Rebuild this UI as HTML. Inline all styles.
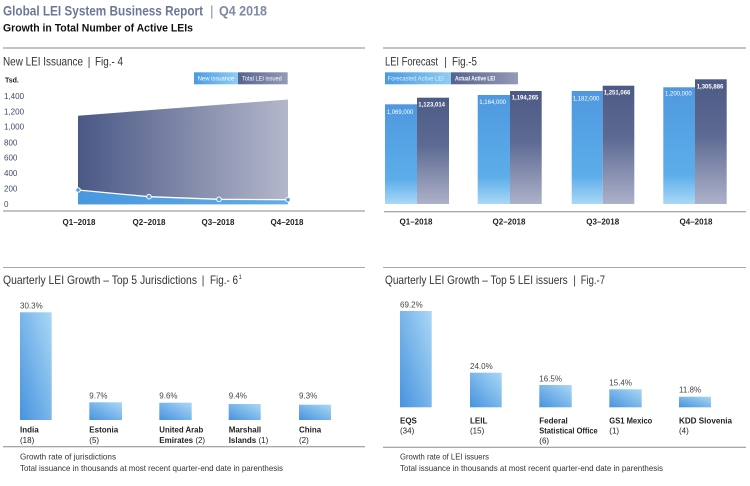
<!DOCTYPE html>
<html><head><meta charset="utf-8"><style>
html,body{margin:0;padding:0;background:#fff;}
svg{display:block;font-family:"Liberation Sans",sans-serif;}
</style></head><body>
<svg width="750" height="486" viewBox="0 0 750 486" xmlns="http://www.w3.org/2000/svg">
<defs>
<linearGradient id="darkArea" x1="0" y1="0" x2="1" y2="0"><stop offset="0" stop-color="#4a5885"/><stop offset="1" stop-color="#b4b7cb"/></linearGradient>
<linearGradient id="lightArea" x1="0" y1="0" x2="1" y2="0"><stop offset="0" stop-color="#4897e0"/><stop offset="1" stop-color="#5eaee9"/></linearGradient>
<linearGradient id="lgLight" x1="0" y1="0" x2="1" y2="0"><stop offset="0" stop-color="#4a9be2"/><stop offset="1" stop-color="#8fcdf3"/></linearGradient>
<linearGradient id="lgDark" x1="0" y1="0" x2="1" y2="0"><stop offset="0" stop-color="#56638d"/><stop offset="1" stop-color="#949bb6"/></linearGradient>
<linearGradient id="barLight" x1="0" y1="0" x2="0" y2="1"><stop offset="0" stop-color="#4f98df"/><stop offset="0.75" stop-color="#5cadea"/><stop offset="1" stop-color="#a9d8f6"/></linearGradient>
<linearGradient id="barDark" x1="0" y1="0" x2="0" y2="1"><stop offset="0" stop-color="#4d5a85"/><stop offset="0.45" stop-color="#5d6a93"/><stop offset="1" stop-color="#adb1c9"/></linearGradient>
<linearGradient id="bBar" x1="0" y1="1" x2="1" y2="0"><stop offset="0" stop-color="#4793de"/><stop offset="1" stop-color="#aad8f6"/></linearGradient>
</defs>

<!-- Header -->
<text x="3" y="15.7" font-size="14" font-weight="bold" fill="#6b7897" textLength="200" lengthAdjust="spacingAndGlyphs">Global LEI System Business Report</text>
<text x="210" y="15.7" font-size="14" fill="#8a93ac">|</text>
<text x="219" y="15.7" font-size="14" font-weight="bold" fill="#7f89a3" textLength="48" lengthAdjust="spacingAndGlyphs">Q4 2018</text>
<text x="3" y="31.5" font-size="11" font-weight="bold" fill="#111" textLength="190" lengthAdjust="spacingAndGlyphs">Growth in Total Number of Active LEIs</text>

<!-- separators -->
<line x1="3" y1="48" x2="365" y2="48" stroke="#8a8a8a" stroke-width="1"/>
<line x1="383" y1="48" x2="746" y2="48" stroke="#8a8a8a" stroke-width="1"/>
<line x1="3" y1="267.5" x2="365" y2="267.5" stroke="#aaa" stroke-width="1"/>
<line x1="383" y1="267.5" x2="746" y2="267.5" stroke="#aaa" stroke-width="1"/>

<!-- Fig 4 -->
<text x="3" y="65.5" font-size="12" fill="#333" textLength="80" lengthAdjust="spacingAndGlyphs">New LEI Issuance</text>
<text x="87.5" y="65.5" font-size="12" fill="#555">|</text>
<text x="95" y="65.5" font-size="12" fill="#333" textLength="28" lengthAdjust="spacingAndGlyphs">Fig.- 4</text>

<rect x="194" y="72.3" width="44" height="12" fill="url(#lgLight)"/>
<rect x="238" y="72.3" width="49.7" height="12" fill="url(#lgDark)"/>
<text x="197.7" y="80.7" font-size="6" fill="#fff" textLength="36.6" lengthAdjust="spacingAndGlyphs">New issuance</text>
<text x="242" y="80.7" font-size="6" fill="#fff" textLength="39.7" lengthAdjust="spacingAndGlyphs">Total LEI issued</text>

<text x="5" y="82.5" font-size="7" font-weight="bold" fill="#222">Tsd.</text>
<g font-size="8" fill="#3d4a72">
<text x="4" y="99">1,400</text>
<text x="4" y="114.7">1,200</text>
<text x="4" y="129.7">1,000</text>
<text x="4" y="145.3">800</text>
<text x="4" y="160.7">600</text>
<text x="4" y="176">400</text>
<text x="4" y="191.3">200</text>
<text x="4" y="207">0</text>
</g>

<polygon points="78,115.7 288,99.5 288,204.3 78,204.3" fill="url(#darkArea)"/>
<polygon points="78,190 149,196.7 219,199.3 288,199.7 288,204.3 78,204.3" fill="url(#lightArea)"/>
<polyline points="78,190 149,196.7 219,199.3 288,199.7" fill="none" stroke="#fff" stroke-width="1.3"/>
<g fill="#4f9de2" stroke="#fff" stroke-width="1">
<circle cx="78" cy="190" r="2.3"/>
<circle cx="149" cy="196.7" r="2.3"/>
<circle cx="219" cy="199.3" r="2.3"/>
<circle cx="288" cy="199.7" r="2.3"/>
</g>

<line x1="3" y1="211" x2="365" y2="211" stroke="#8a8a8a" stroke-width="1"/>
<g font-size="8" font-weight="bold" fill="#222" text-anchor="middle">
<text x="79" y="225">Q1–2018</text>
<text x="149" y="225">Q2–2018</text>
<text x="218" y="225">Q3–2018</text>
<text x="287" y="225">Q4–2018</text>
</g>

<!-- Fig 5 -->
<text x="385" y="65.7" font-size="12" fill="#333" textLength="53" lengthAdjust="spacingAndGlyphs">LEI Forecast</text>
<text x="444" y="65.7" font-size="12" fill="#555">|</text>
<text x="452" y="65.7" font-size="12" fill="#333" textLength="25" lengthAdjust="spacingAndGlyphs">Fig.-5</text>

<rect x="385" y="72.3" width="66" height="12" fill="url(#lgLight)"/>
<rect x="451" y="72.3" width="67" height="12" fill="url(#lgDark)"/>
<text x="387.7" y="80.5" font-size="6" fill="#dff0ff" textLength="56" lengthAdjust="spacingAndGlyphs">Forecasted Active LEI</text>
<text x="455" y="80.5" font-size="6" font-weight="bold" fill="#fff" textLength="40" lengthAdjust="spacingAndGlyphs">Actual Active LEI</text>

<rect x="385" y="104.3" width="32" height="99.7" fill="url(#barLight)"/>
<rect x="417" y="97.7" width="32" height="106.3" fill="url(#barDark)"/>
<rect x="477.7" y="95" width="32.3" height="109" fill="url(#barLight)"/>
<rect x="510" y="91" width="31.7" height="113" fill="url(#barDark)"/>
<rect x="571.7" y="91" width="31" height="113" fill="url(#barLight)"/>
<rect x="602.7" y="85.7" width="31.6" height="118.3" fill="url(#barDark)"/>
<rect x="663.3" y="87.3" width="31.7" height="116.7" fill="url(#barLight)"/>
<rect x="695" y="79.3" width="31.7" height="124.7" fill="url(#barDark)"/>

<g font-size="6" fill="#fff">
<text x="386.7" y="114">1,069,000</text>
<text x="418.3" y="106.5" font-weight="bold">1,123,014</text>
<text x="479.3" y="104">1,164,000</text>
<text x="511.7" y="99.3" font-weight="bold">1,194,265</text>
<text x="572.7" y="100.5">1,182,000</text>
<text x="603.7" y="94.7" font-weight="bold">1,251,066</text>
<text x="665" y="95.7">1,200,000</text>
<text x="696.7" y="88.3" font-weight="bold">1,305,886</text>
</g>

<line x1="384" y1="211.7" x2="746" y2="211.7" stroke="#8a8a8a" stroke-width="1"/>
<g font-size="8" font-weight="bold" fill="#222" text-anchor="middle">
<text x="416" y="224.5">Q1–2018</text>
<text x="509" y="224.5">Q2–2018</text>
<text x="602.7" y="224.5">Q3–2018</text>
<text x="696" y="224.5">Q4–2018</text>
</g>

<!-- Fig 6 -->
<text x="3" y="284" font-size="12" fill="#333" textLength="194" lengthAdjust="spacingAndGlyphs">Quarterly LEI Growth – Top 5 Jurisdictions</text>
<text x="201.5" y="284" font-size="12" fill="#555">|</text>
<text x="210" y="284" font-size="12" fill="#333" textLength="28" lengthAdjust="spacingAndGlyphs">Fig.- 6</text>
<text x="238.5" y="279" font-size="6" fill="#333">1</text>

<rect x="20" y="312.3" width="31.7" height="107.7" fill="url(#bBar)"/>
<rect x="89.3" y="402.3" width="32.7" height="17.7" fill="url(#bBar)"/>
<rect x="159.3" y="402.7" width="32.4" height="17.3" fill="url(#bBar)"/>
<rect x="228.7" y="404" width="32" height="16" fill="url(#bBar)"/>
<rect x="299" y="404.7" width="32" height="15.3" fill="url(#bBar)"/>

<g font-size="8" fill="#444">
<text x="20" y="308.5">30.3%</text>
<text x="89.3" y="398.5">9.7%</text>
<text x="159.3" y="398.5">9.6%</text>
<text x="228.7" y="398.5">9.4%</text>
<text x="299" y="398.5">9.3%</text>
</g>
<g font-size="8" fill="#222">
<text x="20" y="432.5" font-weight="bold">India</text>
<text x="20" y="443">(18)</text>
<text x="89.3" y="432.5" font-weight="bold">Estonia</text>
<text x="89.3" y="443">(5)</text>
<text x="159.3" y="432.5" font-weight="bold" textLength="44" lengthAdjust="spacingAndGlyphs">United Arab</text>
<text x="159.3" y="443"><tspan font-weight="bold">Emirates</tspan> (2)</text>
<text x="228.7" y="432.5" font-weight="bold">Marshall</text>
<text x="228.7" y="443"><tspan font-weight="bold">Islands</tspan> (1)</text>
<text x="299" y="432.5" font-weight="bold">China</text>
<text x="299" y="443">(2)</text>
</g>
<line x1="3" y1="446.7" x2="365" y2="446.7" stroke="#8a8a8a" stroke-width="1"/>
<text x="20" y="459.5" font-size="8.5" fill="#333" textLength="96" lengthAdjust="spacingAndGlyphs">Growth rate of jurisdictions</text>
<text x="20" y="471" font-size="8.5" fill="#333" textLength="263" lengthAdjust="spacingAndGlyphs">Total issuance in thousands at most recent quarter-end date in parenthesis</text>

<!-- Fig 7 -->
<text x="385" y="284" font-size="12" fill="#333" textLength="182.7" lengthAdjust="spacingAndGlyphs">Quarterly LEI Growth – Top 5 LEI issuers</text>
<text x="573" y="284" font-size="12" fill="#555">|</text>
<text x="580.7" y="284" font-size="12" fill="#333" textLength="24.3" lengthAdjust="spacingAndGlyphs">Fig.-7</text>

<rect x="400" y="311" width="31.7" height="96.3" fill="url(#bBar)"/>
<rect x="470" y="372.7" width="31.7" height="34.6" fill="url(#bBar)"/>
<rect x="539.3" y="385" width="32.4" height="22.3" fill="url(#bBar)"/>
<rect x="609.3" y="389.3" width="32.4" height="18" fill="url(#bBar)"/>
<rect x="679" y="396.7" width="32" height="10.6" fill="url(#bBar)"/>

<g font-size="8" fill="#444">
<text x="400" y="307.7">69.2%</text>
<text x="470" y="369">24.0%</text>
<text x="539.3" y="381.3">16.5%</text>
<text x="609.3" y="385.7">15.4%</text>
<text x="679" y="392.7">11.8%</text>
</g>
<g font-size="8" fill="#222">
<text x="400" y="423.5" font-weight="bold">EQS</text>
<text x="400" y="433.5">(34)</text>
<text x="470" y="423.5" font-weight="bold">LEIL</text>
<text x="470" y="433.5">(15)</text>
<text x="539.3" y="423.5" font-weight="bold">Federal</text>
<text x="539.3" y="433.5" font-weight="bold" textLength="58.4" lengthAdjust="spacingAndGlyphs">Statistical Office</text>
<text x="539.3" y="443.5">(6)</text>
<text x="609.3" y="423.5" font-weight="bold" textLength="43" lengthAdjust="spacingAndGlyphs">GS1 Mexico</text>
<text x="609.3" y="433.5">(1)</text>
<text x="679" y="423.5" font-weight="bold" textLength="53" lengthAdjust="spacingAndGlyphs">KDD Slovenia</text>
<text x="679" y="433.5">(4)</text>
</g>
<line x1="383" y1="447.3" x2="746" y2="447.3" stroke="#8a8a8a" stroke-width="1"/>
<text x="400" y="459.5" font-size="8.5" fill="#333" textLength="89" lengthAdjust="spacingAndGlyphs">Growth rate of LEI issuers</text>
<text x="400" y="471" font-size="8.5" fill="#333" textLength="263" lengthAdjust="spacingAndGlyphs">Total issuance in thousands at most recent quarter-end date in parenthesis</text>
</svg>
</body></html>
